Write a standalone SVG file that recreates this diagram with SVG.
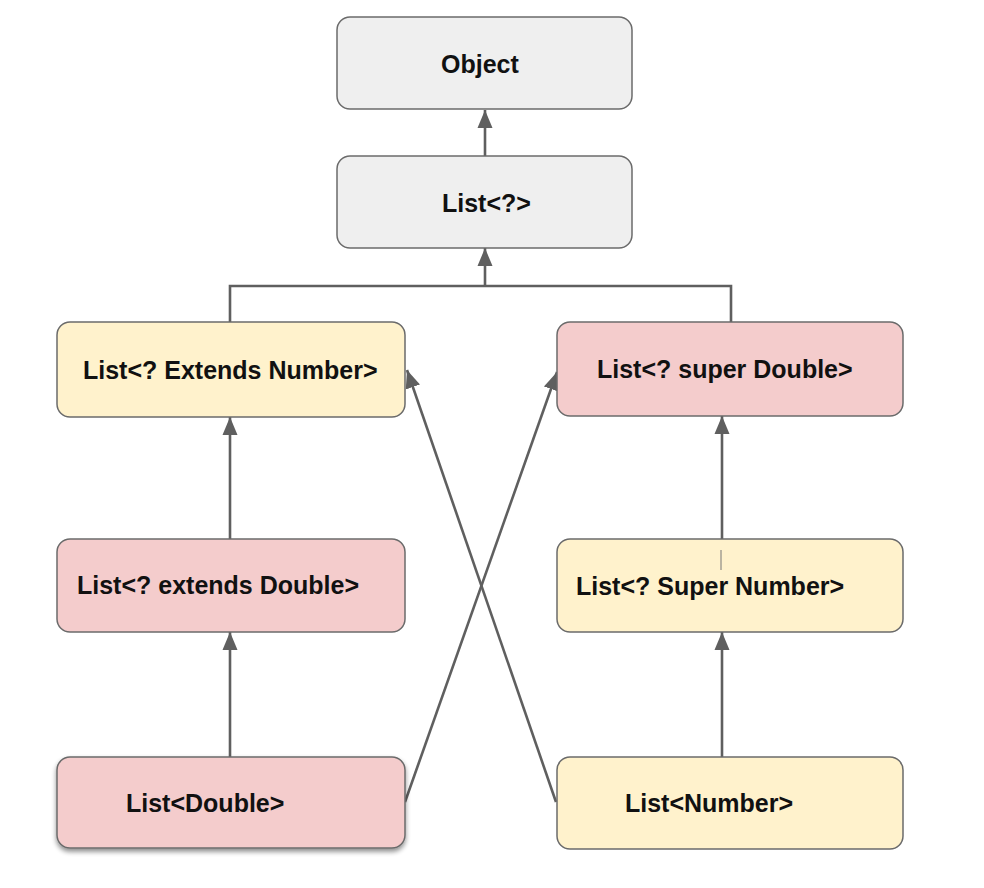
<svg xmlns="http://www.w3.org/2000/svg" width="984" height="888" viewBox="0 0 984 888">
  <style>
    .box { stroke: #6b6b6b; stroke-width: 1.5; }
    .grey { fill: #efefef; }
    .yellow { fill: #fff2cc; }
    .pink { fill: #f4cccc; }
    .label { font-family: "Liberation Sans", Arial, sans-serif; font-weight: bold; font-size: 25px; fill: #111; }
    .edge { fill: none; stroke: #5f5f5f; stroke-width: 2.6; }
  </style>
  <defs>
    <marker id="arrow" markerUnits="userSpaceOnUse" markerWidth="20" markerHeight="20" viewBox="0 0 20 20" refX="18" refY="10" orient="auto">
      <path d="M0,2.5 L18,10 L0,17.5 Z" fill="#5f5f5f"/>
    </marker>
    <filter id="shadow" x="-10%" y="-10%" width="120%" height="130%">
      <feGaussianBlur in="SourceAlpha" stdDeviation="2.5"/>
      <feOffset dx="0" dy="3" result="b"/>
      <feComponentTransfer><feFuncA type="linear" slope="0.45"/></feComponentTransfer>
      <feMerge><feMergeNode/><feMergeNode in="SourceGraphic"/></feMerge>
    </filter>
  </defs>

  <rect width="984" height="888" fill="#ffffff"/>

  <!-- connectors -->
  <g id="connectors">
    <line class="edge" x1="485" y1="156" x2="485" y2="110" marker-end="url(#arrow)"/>
    <path class="edge" d="M230,322 V286 H731 V322"/>
    <line class="edge" x1="485" y1="286" x2="485" y2="248" marker-end="url(#arrow)"/>
    <line class="edge" x1="230" y1="539" x2="230" y2="417" marker-end="url(#arrow)"/>
    <line class="edge" x1="230" y1="757" x2="230" y2="632" marker-end="url(#arrow)"/>
    <line class="edge" x1="722" y1="539" x2="722" y2="416" marker-end="url(#arrow)"/>
    <line class="edge" x1="722" y1="757" x2="722" y2="632" marker-end="url(#arrow)"/>
    <line class="edge" x1="405" y1="802" x2="557" y2="372" marker-end="url(#arrow)"/>
    <line class="edge" x1="556" y1="802" x2="407" y2="370" marker-end="url(#arrow)"/>
  </g>

  <g id="object">
    <rect class="box grey" x="337" y="17" width="295" height="92" rx="13"/>
    <text class="label" x="441" y="73">Object</text>
  </g>

  <g id="list-wildcard">
    <rect class="box grey" x="337" y="156" width="295" height="92" rx="13"/>
    <text class="label" x="442" y="212">List&lt;?&gt;</text>
  </g>

  <g id="list-extends-number">
    <rect class="box yellow" x="57" y="322" width="348" height="95" rx="13"/>
    <text class="label" x="83" y="379">List&lt;? Extends Number&gt;</text>
  </g>

  <g id="list-super-double">
    <rect class="box pink" x="557" y="322" width="346" height="94" rx="13"/>
    <text class="label" x="597" y="378">List&lt;? super Double&gt;</text>
  </g>

  <g id="list-extends-double">
    <rect class="box pink" x="57" y="539" width="348" height="93" rx="13"/>
    <text class="label" x="77" y="594">List&lt;? extends Double&gt;</text>
  </g>

  <g id="list-super-number">
    <rect class="box yellow" x="557" y="539" width="346" height="93" rx="13"/>
    <line x1="721" y1="550" x2="721" y2="570" stroke="#777" stroke-width="1"/>
    <text class="label" x="576" y="595">List&lt;? Super Number&gt;</text>
  </g>

  <g id="list-double">
    <rect class="box pink" x="57" y="757" width="348" height="91" rx="13" filter="url(#shadow)"/>
    <text class="label" x="126" y="812">List&lt;Double&gt;</text>
  </g>

  <g id="list-number">
    <rect class="box yellow" x="557" y="757" width="346" height="92" rx="13"/>
    <text class="label" x="625" y="812">List&lt;Number&gt;</text>
  </g>
</svg>
